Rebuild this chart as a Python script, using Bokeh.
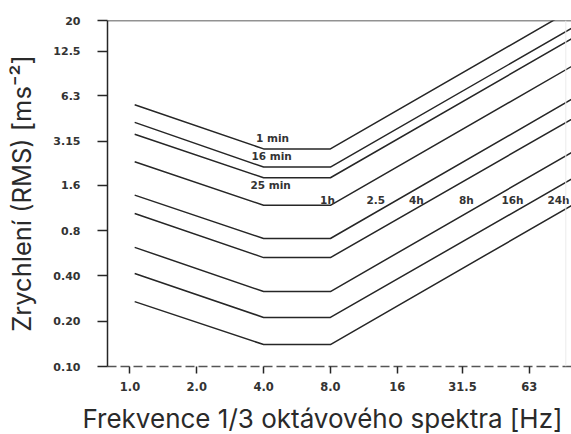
from bokeh.plotting import figure
from bokeh.models import Range1d, FixedTicker, Span, Title, ColumnDataSource
from bokeh.core.properties import value
from bokeh.embed import file_html
from bokeh.resources import INLINE

# Exposure-time boundaries: RMS acceleration [m/s^2] at the corner frequencies
durations = ["1 min", "16 min", "25 min", "1h", "2.5h", "4h", "8h", "16h", "24h"]
corner_freqs = [1.05, 4.0, 8.0, 100.0]
accel_at_start = [5.5, 4.2, 3.5, 2.3, 1.38, 1.04, 0.62, 0.415, 0.27]
accel_at_plateau = [2.8, 2.12, 1.8, 1.18, 0.71, 0.53, 0.315, 0.212, 0.14]
accel_at_end = [24.0, 18.1, 15.4, 10.1, 6.1, 4.5, 2.7, 1.8, 1.2]

# Curve annotations (text, frequency, acceleration)
curve_labels = ["1 min", "16 min", "25 min", "1h", "2.5", "4h", "8h", "16h", "24h"]
curve_label_freq = [4.39, 4.35, 4.30, 7.76, 12.8, 19.5, 32.8, 52.9, 85.3]
curve_label_accel = [3.32, 2.52, 1.62, 1.29, 1.29, 1.29, 1.29, 1.29, 1.29]

# Axis ticks
x_ticks = [1.0, 2.0, 4.0, 8.0, 16.0, 31.5, 63.0]
x_tick_labels = ["1.0", "2.0", "4.0", "8.0", "16", "31.5", "63"]
y_ticks = [0.1, 0.2, 0.4, 0.8, 1.6, 3.15, 6.3, 12.5, 20.0]
y_tick_labels = ["0.10", "0.20", "0.40", "0.8", "1.6", "3.15", "6.3", "12.5", "20"]

x_title = "Frekvence 1/3 oktávového spektra [Hz]"
y_title = "Zrychlení (RMS) [ms⁻²]"

INK = "#262626"
TICK_FONT = "DejaVu Sans"
TITLE_FONT = "Inter"

p = figure(
    width=571, height=434,
    x_axis_type="log", y_axis_type="log",
    x_range=Range1d(0.792, 97.6), y_range=Range1d(0.1, 20.0),
    min_border_left=107, min_border_right=0,
    min_border_top=20, min_border_bottom=68,
    output_backend="svg", toolbar_location=None,
    background_fill_color="white", border_fill_color="white",
)
p.outline_line_color = None
p.grid.visible = False

# Boundary curves
for a0, a1, a2 in zip(accel_at_start, accel_at_plateau, accel_at_end):
    p.line(corner_freqs, [a0, a1, a1, a2], line_color=INK, line_width=1.5)

# Curve annotations
src = ColumnDataSource(dict(x=curve_label_freq, y=curve_label_accel, t=curve_labels))
p.text(x="x", y="y", text="t", source=src,
       text_font=value(TICK_FONT), text_font_style="bold", text_font_size="10.5px",
       text_color="#333333", text_align="center", text_baseline="middle")

# Frame: solid top edge, faint right edge
p.add_layout(Span(location=20.0, dimension="width", line_color=INK, line_width=1.5))
p.add_layout(Span(location=92.0, dimension="height", line_color="#ececec", line_width=1))

# X axis (dashed baseline)
xa = p.xaxis[0]
xa.ticker = FixedTicker(ticks=x_ticks, minor_ticks=[])
xa.major_label_overrides = {t: s for t, s in zip(x_ticks, x_tick_labels)}
xa.axis_line_color = "#555555"
xa.axis_line_width = 1.5
xa.axis_line_dash = "9 4"
xa.major_tick_line_color = INK
xa.major_tick_line_width = 1.5
xa.major_tick_out = 7
xa.major_tick_in = 0
xa.minor_tick_line_color = None
xa.major_label_standoff = 8
xa.major_label_text_font = TICK_FONT
xa.major_label_text_font_style = "bold"
xa.major_label_text_font_size = "11.5px"
xa.major_label_text_color = "#333333"
# blank spacer label: keeps a gap between tick labels and the title below
xa.axis_label = " "
xa.axis_label_text_font_size = "1px"
xa.axis_label_standoff = 3

# Y axis
ya = p.yaxis[0]
ya.ticker = FixedTicker(ticks=y_ticks, minor_ticks=[])
ya.major_label_overrides = {t: s for t, s in zip(y_ticks, y_tick_labels)}
ya.axis_line_color = INK
ya.axis_line_width = 1.5
ya.major_tick_line_color = INK
ya.major_tick_line_width = 1.5
ya.major_tick_out = 10
ya.major_tick_in = 0
ya.minor_tick_line_color = None
ya.major_label_standoff = 17
ya.major_label_text_font = TICK_FONT
ya.major_label_text_font_style = "bold"
ya.major_label_text_font_size = "11px"
ya.major_label_text_color = "#333333"
ya.axis_label = y_title
ya.axis_label_standoff = 13
ya.axis_label_text_font = TITLE_FONT
ya.axis_label_text_font_style = "normal"
ya.axis_label_text_font_size = "25.5px"
ya.axis_label_text_color = "#2a2a2a"

# Horizontal axis title, set slightly left of the frame's start
p.add_layout(Title(text=x_title, align="left", offset=-25, standoff=0,
                   vertical_align="bottom",
                   text_font=TITLE_FONT, text_font_style="normal",
                   text_font_size="26px", text_color="#2a2a2a"), "below")

open("out.html", "w").write(file_html(p, INLINE))
